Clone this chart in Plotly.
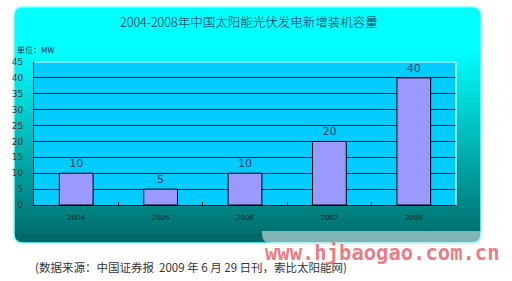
import plotly.graph_objects as go

years = ["2004", "2005", "2006", "2007", "2008"]
capacity = [10, 5, 10, 20, 40]
y_ticks = [0, 5, 10, 15, 20, 25, 30, 35, 40, 45]
title_text = "2004-2008年中国太阳能光伏发电新增装机容量"
unit_text = "单位：MW"
source_text = "(数据来源：中国证券报  2009 年 6 月 29 日刊，索比太阳能网)"
watermark_text = "www.hjbaogao.com.cn"

W, H = 512, 281
L, R, T, B = 34, 456, 62, 205  # plot area in pixels


def px(x):
    return (x - L) / (R - L)


def py(y):
    return (B - y) / (B - T)


def rr_path(x0, y0, x1, y1, r, top=True, bottom=True):
    rt = r if top else 0
    rb = r if bottom else 0
    p = f"M {px(x0 + rt)},{py(y0)} L {px(x1 - rt)},{py(y0)} "
    if rt:
        p += f"Q {px(x1)},{py(y0)} {px(x1)},{py(y0 + rt)} "
    p += f"L {px(x1)},{py(y1 - rb)} "
    if rb:
        p += f"Q {px(x1)},{py(y1)} {px(x1 - rb)},{py(y1)} "
    p += f"L {px(x0 + rb)},{py(y1)} "
    if rb:
        p += f"Q {px(x0)},{py(y1)} {px(x0)},{py(y1 - rb)} "
    p += f"L {px(x0)},{py(y0 + rt)} "
    if rt:
        p += f"Q {px(x0)},{py(y0)} {px(x0 + rt)},{py(y0)} "
    p += "Z"
    return p


shapes = []
PX0, PY0, PX1, PY1, RAD = 14, 7, 481, 243, 9
shapes.append(dict(type="path", xref="paper", yref="paper", layer="below",
                   path=rr_path(PX0, PY0, PX1, PY1, RAD), fillcolor="#00FFFF",
                   line=dict(width=0)))


def grad(y):
    g0, g1 = 50, PY1
    f = min(max((y - g0) / (g1 - g0), 0), 1)
    v = int(round(255 - f * (255 - 104)))
    return f"rgb(0,{v},{v})"


ys = list(range(50, PY1 - RAD, 3))
for y in ys:
    y2 = min(y + 3, PY1 - RAD)
    shapes.append(dict(type="rect", xref="paper", yref="paper", layer="below",
                       x0=px(PX0), x1=px(PX1), y0=py(y), y1=py(y2 + 0.5),
                       fillcolor=grad(y + 1.5), line=dict(width=0)))
shapes.append(dict(type="path", xref="paper", yref="paper", layer="below",
                   path=rr_path(PX0, PY1 - RAD, PX1, PY1, RAD, top=False),
                   fillcolor=grad(PY1), line=dict(width=0)))
shapes.append(dict(type="path", xref="paper", yref="paper", layer="below",
                   path=rr_path(PX0, PY0, PX1, PY1, RAD), fillcolor="rgba(0,0,0,0)",
                   line=dict(width=1.5, color="#7FFFFF")))
shapes.append(dict(type="path", xref="paper", yref="paper", layer="below",
                   path=rr_path(262, 231, PX1, PY1, RAD, top=False),
                   fillcolor="rgba(255,255,255,0.5)", line=dict(width=0)))
# plot area background
shapes.append(dict(type="rect", xref="paper", yref="paper", layer="below",
                   x0=0, x1=1, y0=0, y1=1, fillcolor="#00CCFF", line=dict(width=0)))
# white top and right plot border
shapes.append(dict(type="line", xref="paper", yref="paper", layer="above",
                   x0=0, x1=1, y0=1, y1=1, line=dict(color="#E8FFFF", width=1.2)))
shapes.append(dict(type="line", xref="paper", yref="paper", layer="above",
                   x0=1, x1=1, y0=0, y1=1, line=dict(color="#E8FFFF", width=1.2)))

fig = go.Figure()
fig.add_trace(go.Bar(
    x=years, y=capacity,
    marker=dict(color="#9999FF", line=dict(color="#000000", width=1)),
    text=[str(v) for v in capacity], textposition="outside",
    textfont=dict(family="DejaVu Sans", size=11, color="#1F3A5F"),
    cliponaxis=False,
))

annotations = [
    dict(text=title_text, xref="paper", yref="paper", x=px(249), y=py(21),
         showarrow=False, xanchor="center", yanchor="middle",
         font=dict(family="Noto Sans CJK SC", size=12.5, color="#202048", weight=300)),
    dict(text=unit_text, xref="paper", yref="paper", x=px(15), y=py(49),
         showarrow=False, xanchor="left", yanchor="middle",
         font=dict(family="Noto Sans CJK SC", size=8, color="#1A1A40")),
    dict(text=source_text, xref="paper", yref="paper", x=px(33), y=py(267),
         showarrow=False, xanchor="left", yanchor="middle",
         font=dict(family="Noto Sans CJK SC", size=11.5, color="#333333")),
    dict(text="<b>" + watermark_text + "</b>", xref="paper", yref="paper",
         x=px(263), y=py(253), showarrow=False, xanchor="left", yanchor="middle",
         font=dict(family="DejaVu Sans Mono", size=20.5, color="rgba(232,100,110,0.85)")),
]

fig.update_layout(
    width=W, height=H,
    margin=dict(l=L, r=W - R, t=T, b=H - B, pad=0),
    paper_bgcolor="white", plot_bgcolor="#00CCFF",
    showlegend=False, bargap=0.6,
    shapes=shapes, annotations=annotations,
    xaxis=dict(type="category", showgrid=False, showline=True, linecolor="#000000",
               linewidth=1, ticks="inside", tickson="boundaries", ticklen=3,
               tickcolor="#000000",
               tickfont=dict(family="DejaVu Sans", size=7, color="#1A1A1A"),
               ticklabelstandoff=6),
    yaxis=dict(range=[0, 45], tickvals=y_ticks, showgrid=True, gridcolor="#001030",
               gridwidth=1, showline=True, linecolor="#000000", linewidth=1,
               ticks="", zeroline=False,
               tickfont=dict(family="DejaVu Sans", size=9, color="#3A3A3A"),
               ticklabelstandoff=8),
)

fig.write_html("out.html")
